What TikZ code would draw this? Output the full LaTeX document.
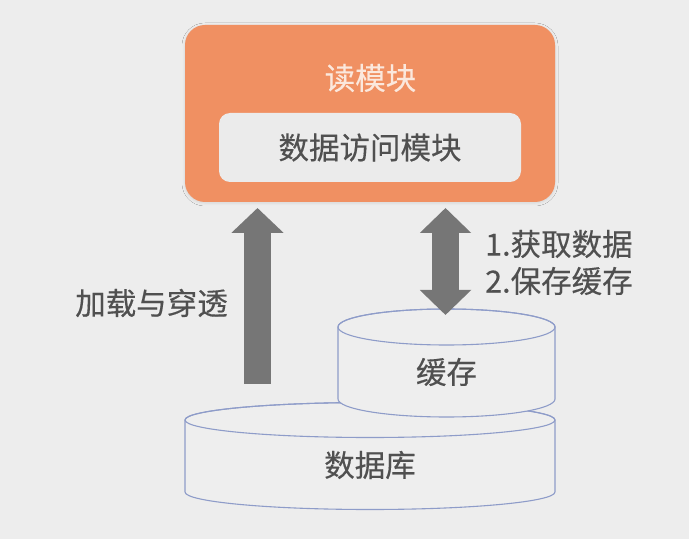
\documentclass[tikz,border=0pt]{standalone}
\usepackage{fontspec}
\setmainfont{Noto Sans CJK SC}
\newfontfamily\lblfont[FakeBold=0.3]{Noto Sans CJK SC}
\usetikzlibrary{arrows.meta,shadows.blur}
\definecolor{bg}{HTML}{EDEDED}
\definecolor{orng}{HTML}{F09062}
\definecolor{inner}{HTML}{EBEBEB}
\definecolor{txt}{HTML}{505050}
\definecolor{ttl}{HTML}{FBE8DD}
\definecolor{arr}{HTML}{767676}
\definecolor{cyl}{HTML}{8E9CC9}
\definecolor{cylfill}{HTML}{EEEEEE}
\tikzset{
  lbl/.style={text=txt, font=\lblfont\fontsize{30.5}{36}\selectfont, inner sep=0pt},
  bigarrow/.style={draw=arr, line width=27pt, -{Triangle[length=25pt, width=51pt]}},
  dblarrow/.style={draw=arr, line width=27pt, {Triangle[length=25pt, width=50pt]}-{Triangle[length=25pt, width=50pt]}},
  cylline/.style={draw=cyl, line width=1.1pt, fill=cylfill},
}
\begin{document}
\begin{tikzpicture}[x=1pt,y=1pt]
\fill[bg] (0,0) rectangle (689,539);
\useasboundingbox (0,0) rectangle (689,539);

% read module
\node[fill=orng, rounded corners=20pt, minimum width=370pt, minimum height=177pt, inner sep=0pt,
  blur shadow={shadow xshift=0pt, shadow yshift=-1pt, shadow opacity=10, shadow blur radius=3pt, shadow blur steps=6}]
  (read) at (370,425.5) {};
\node[lbl, text=ttl] (title) at (370.5,461) {读模块};
\node[fill=inner, rounded corners=11pt, minimum width=302pt, minimum height=69pt, lbl] (dao) at (370,391.5) {数据访问模块};

% database cylinder
\path[cylline] (185,119) -- (185,47) arc[start angle=180, end angle=360, x radius=185, y radius=17.5]
  -- (555,119) arc[start angle=0, end angle=180, x radius=185, y radius=17.5] -- cycle;
\draw[cyl, line width=1.1pt] (370,119) ellipse[x radius=185, y radius=17.5];
\node[lbl] (db) at (370,74) {数据库};

% cache cylinder
\path[cylline] (338,212) -- (338,140) arc[start angle=180, end angle=360, x radius=108.5, y radius=18]
  -- (555,212) arc[start angle=0, end angle=180, x radius=108.5, y radius=18] -- cycle;
\draw[cyl, line width=1.1pt] (446.5,212) ellipse[x radius=108.5, y radius=18];
\node[lbl] (cache) at (446.5,167) {缓存};

% arrows
\coordinate (la) at (257.5,155);
\coordinate (lb) at (257.5,331);
\draw[bigarrow] (la) -- (lb);
\coordinate (ra) at (445.5,224);
\coordinate (rb) at (445.5,331);
\draw[dblarrow] (ra) -- (rb);

\node[lbl] (load) at (151.5,236) {加载与穿透};
\node[lbl, anchor=west] (s1) at (485,295) {1.获取数据};
\node[lbl, anchor=west] (s2) at (485,258) {2.保存缓存};
\end{tikzpicture}
\end{document}
